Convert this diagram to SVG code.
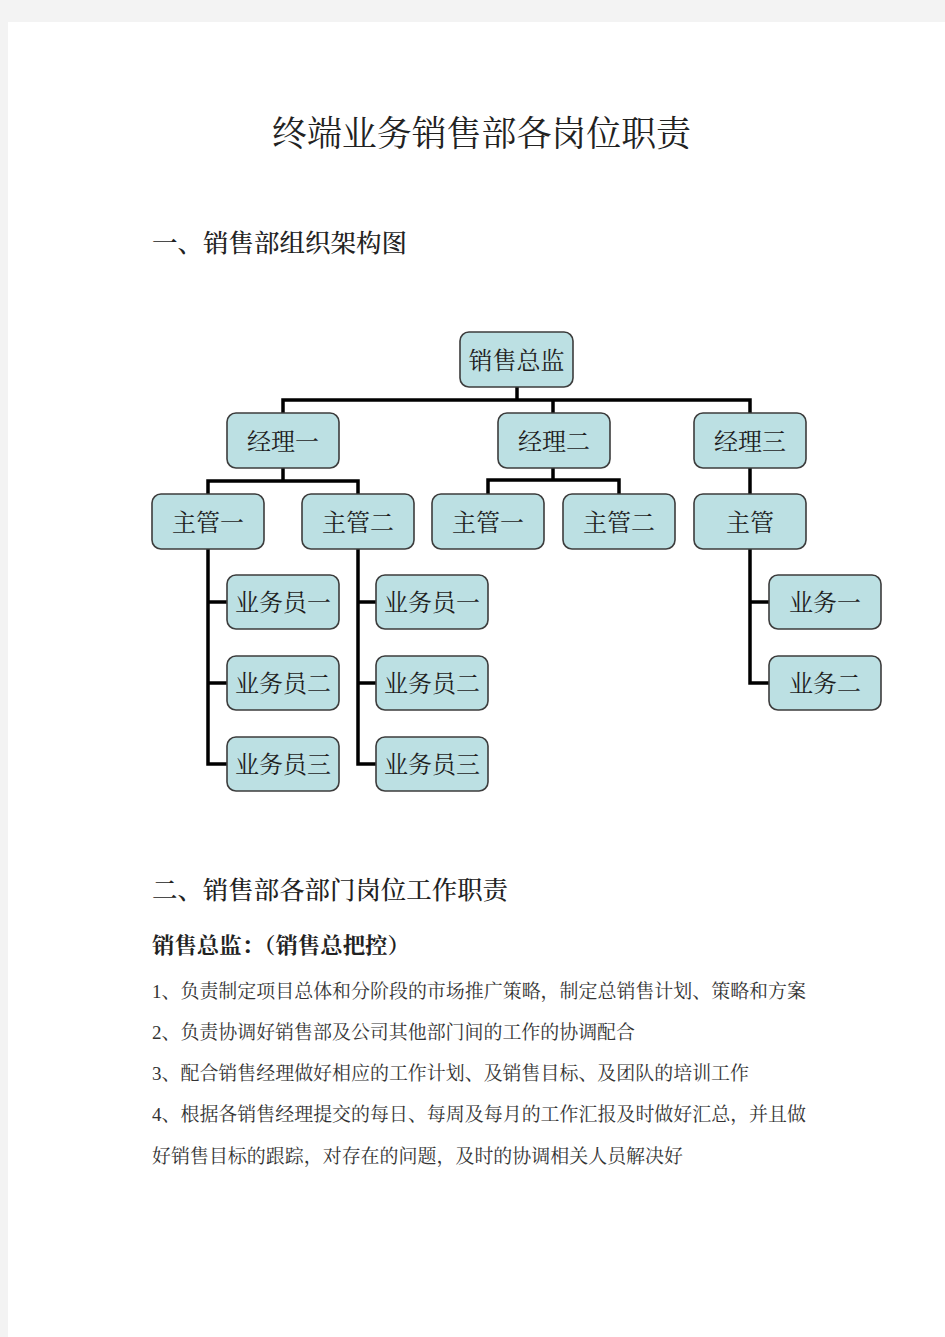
<svg xmlns="http://www.w3.org/2000/svg" width="945" height="1337" viewBox="0 0 945 1337">
<style>
text{font-family:"Liberation Serif","Noto Serif CJK SC","Noto Sans CJK SC",serif;}
.box{fill:#bce0e3;stroke:#3c3c3c;stroke-width:1.6;}
.nt{font-size:24px;fill:#1e1e1e;text-anchor:middle;}
.con{fill:none;stroke:#000;stroke-width:3.5;stroke-linejoin:miter;stroke-linecap:butt;}
.title{font-size:35px;fill:#222;}
.h{font-size:25.5px;fill:#222;font-weight:500;}
.b{font-size:21.5px;fill:#222;font-weight:bold;}
.p{font-size:19px;fill:#333;}
</style>
<rect x="0" y="0" width="945" height="1337" fill="#f3f3f3"/>
<rect x="8" y="22" width="937" height="1315" fill="#ffffff"/>

<text class="title" x="272" y="146" textLength="419" lengthAdjust="spacingAndGlyphs">终端业务销售部各岗位职责</text>
<text class="h" x="152" y="252" textLength="255" lengthAdjust="spacingAndGlyphs">一、销售部组织架构图</text>

<g id="connectors">
<path class="con" d="M517 387 V400"/>
<path class="con" d="M283 413 V400 H750 V413"/>
<path class="con" d="M553 400 V413"/>
<path class="con" d="M283 468 V481"/>
<path class="con" d="M208 494 V481 H358 V494"/>
<path class="con" d="M553 468 V480"/>
<path class="con" d="M488 494 V480 H619 V494"/>
<path class="con" d="M750 468 V494"/>
<path class="con" d="M208 549 V764 H227"/>
<path class="con" d="M208 602 H227"/>
<path class="con" d="M208 683 H227"/>
<path class="con" d="M358 549 V764 H376"/>
<path class="con" d="M358 602 H376"/>
<path class="con" d="M358 683 H376"/>
<path class="con" d="M750 548 V683 H769"/>
<path class="con" d="M750 602 H769"/>
</g>

<g id="n-zongjian"><rect class="box" x="460" y="332" width="113" height="55" rx="9"/><text class="nt" x="516.5" y="368.5">销售总监</text></g>
<g id="n-jingli1"><rect class="box" x="227" y="413" width="112" height="55" rx="9"/><text class="nt" x="283" y="449.5">经理一</text></g>
<g id="n-jingli2"><rect class="box" x="498" y="413" width="112" height="55" rx="9"/><text class="nt" x="554" y="449.5">经理二</text></g>
<g id="n-jingli3"><rect class="box" x="694" y="413" width="112" height="55" rx="9"/><text class="nt" x="750" y="449.5">经理三</text></g>
<g id="n-zhuguan1a"><rect class="box" x="152" y="494" width="112" height="55" rx="9"/><text class="nt" x="208" y="530.5">主管一</text></g>
<g id="n-zhuguan2a"><rect class="box" x="302" y="494" width="112" height="55" rx="9"/><text class="nt" x="358" y="530.5">主管二</text></g>
<g id="n-zhuguan1b"><rect class="box" x="432" y="494" width="112" height="55" rx="9"/><text class="nt" x="488" y="530.5">主管一</text></g>
<g id="n-zhuguan2b"><rect class="box" x="563" y="494" width="112" height="55" rx="9"/><text class="nt" x="619" y="530.5">主管二</text></g>
<g id="n-zhuguan"><rect class="box" x="694" y="494" width="112" height="55" rx="9"/><text class="nt" x="750" y="530.5">主管</text></g>
<g id="n-ywy1a"><rect class="box" x="227" y="575" width="112" height="54" rx="9"/><text class="nt" x="283" y="611">业务员一</text></g>
<g id="n-ywy2a"><rect class="box" x="227" y="656" width="112" height="54" rx="9"/><text class="nt" x="283" y="692">业务员二</text></g>
<g id="n-ywy3a"><rect class="box" x="227" y="737" width="112" height="54" rx="9"/><text class="nt" x="283" y="773">业务员三</text></g>
<g id="n-ywy1b"><rect class="box" x="376" y="575" width="112" height="54" rx="9"/><text class="nt" x="432" y="611">业务员一</text></g>
<g id="n-ywy2b"><rect class="box" x="376" y="656" width="112" height="54" rx="9"/><text class="nt" x="432" y="692">业务员二</text></g>
<g id="n-ywy3b"><rect class="box" x="376" y="737" width="112" height="54" rx="9"/><text class="nt" x="432" y="773">业务员三</text></g>
<g id="n-yw1"><rect class="box" x="769" y="575" width="112" height="54" rx="9"/><text class="nt" x="825" y="611">业务一</text></g>
<g id="n-yw2"><rect class="box" x="769" y="656" width="112" height="54" rx="9"/><text class="nt" x="825" y="692">业务二</text></g>

<text class="h" x="152" y="899" textLength="356" lengthAdjust="spacingAndGlyphs">二、销售部各部门岗位工作职责</text>
<text class="b" x="152" y="953" textLength="258" lengthAdjust="spacingAndGlyphs">销售总监：（销售总把控）</text>
<text class="p" x="152" y="998" textLength="654" lengthAdjust="spacingAndGlyphs">1、负责制定项目总体和分阶段的市场推广策略，制定总销售计划、策略和方案</text>
<text class="p" x="152" y="1039" textLength="483" lengthAdjust="spacingAndGlyphs">2、负责协调好销售部及公司其他部门间的工作的协调配合</text>
<text class="p" x="152" y="1080" textLength="597" lengthAdjust="spacingAndGlyphs">3、配合销售经理做好相应的工作计划、及销售目标、及团队的培训工作</text>
<text class="p" x="152" y="1121" textLength="654" lengthAdjust="spacingAndGlyphs">4、根据各销售经理提交的每日、每周及每月的工作汇报及时做好汇总，并且做</text>
<text class="p" x="152" y="1163" textLength="531" lengthAdjust="spacingAndGlyphs">好销售目标的跟踪，对存在的问题，及时的协调相关人员解决好</text>
</svg>
